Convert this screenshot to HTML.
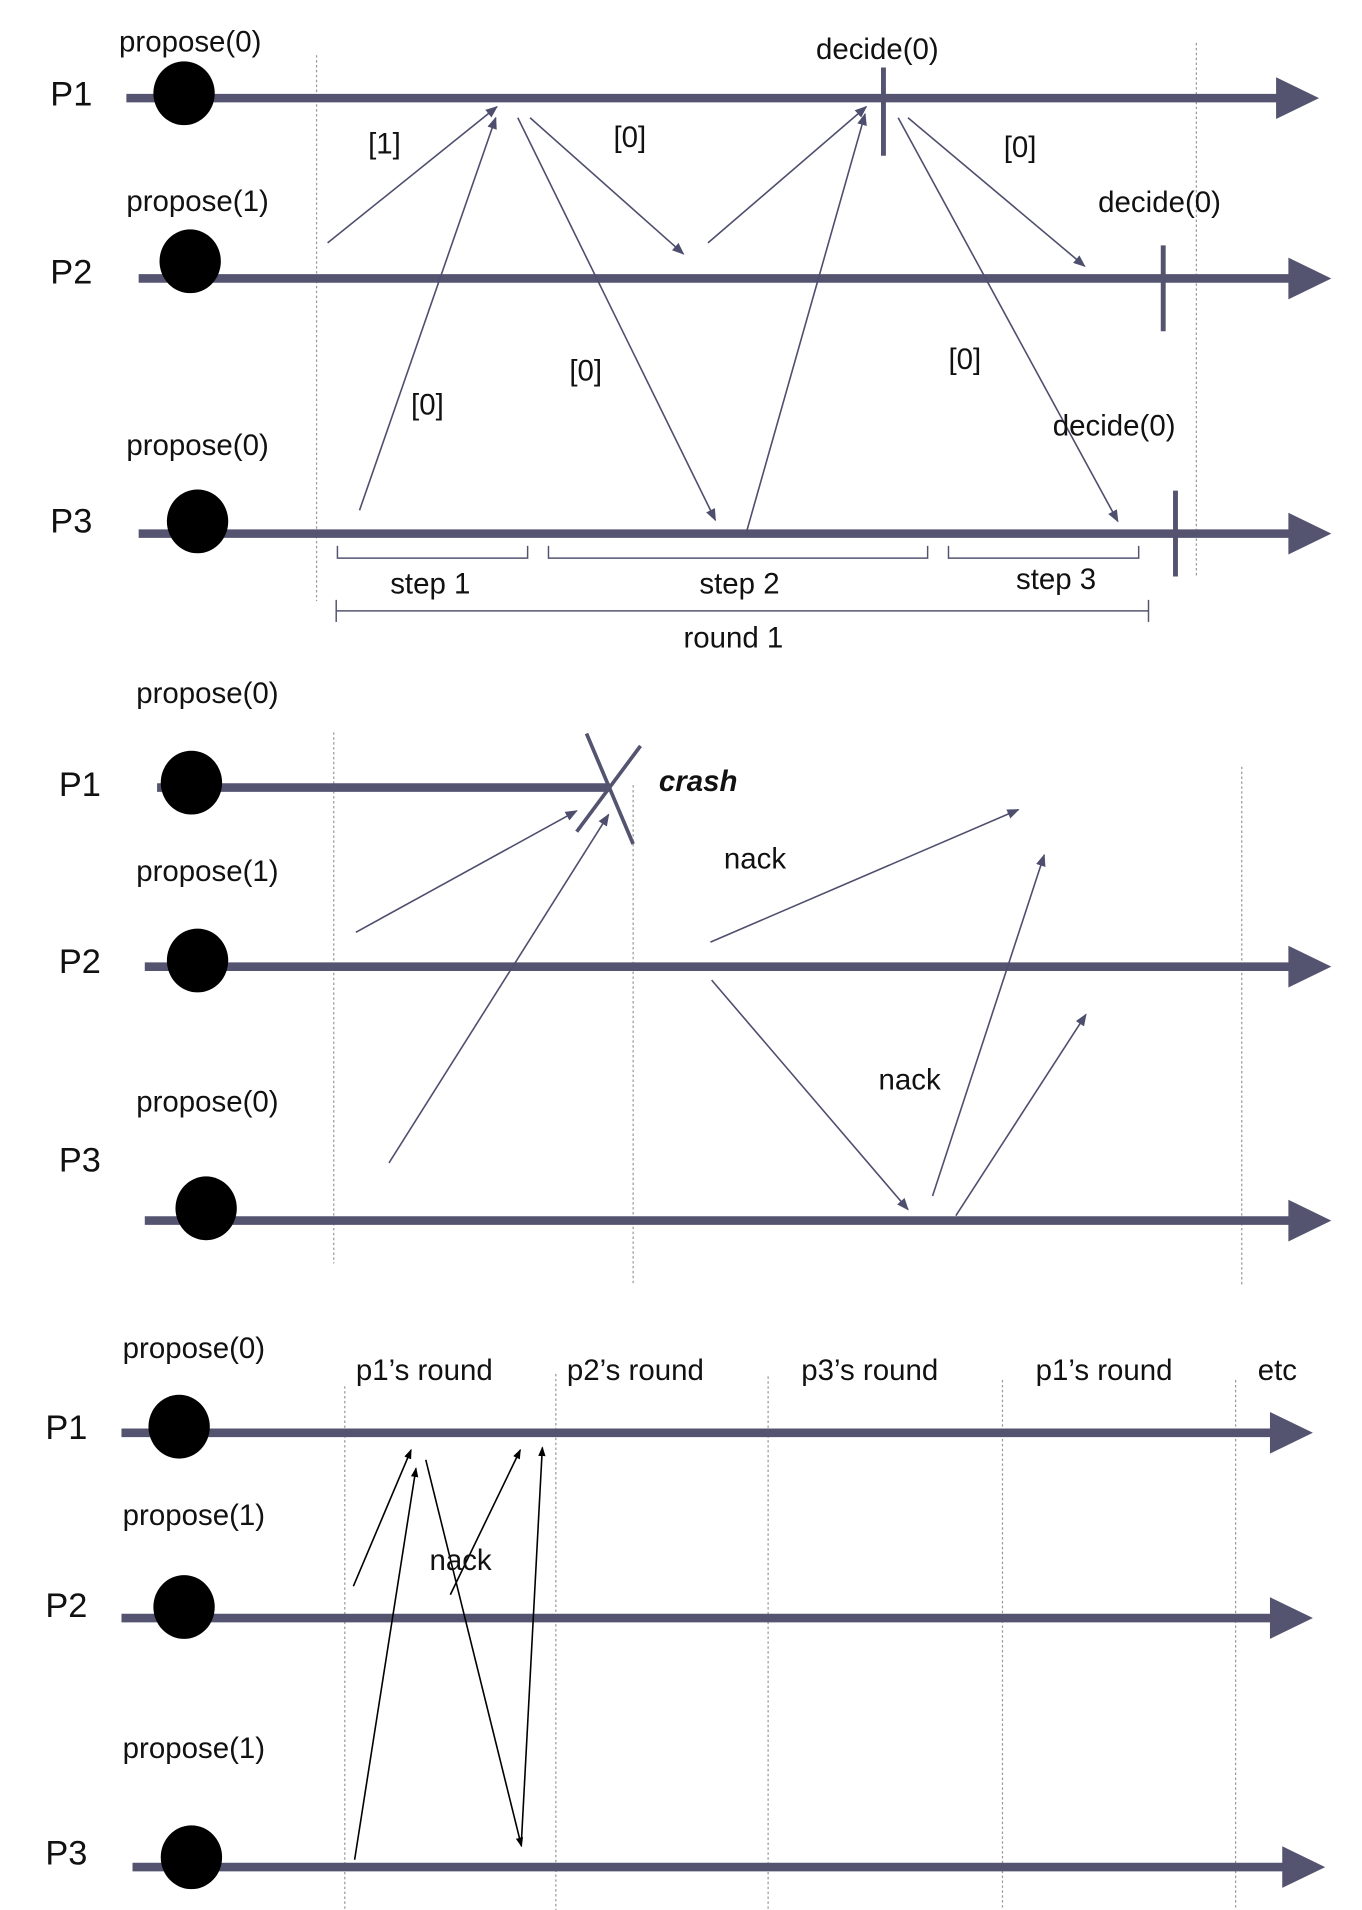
<!DOCTYPE html>
<html><head><meta charset="utf-8"><style>
html,body{margin:0;padding:0;background:#fff;}
svg{display:block;}
text{font-family:"Liberation Sans",sans-serif;fill:#111;}
</style></head><body>
<svg width="1362" height="1910" viewBox="0 0 1110 1557" preserveAspectRatio="none" xmlns="http://www.w3.org/2000/svg">
<defs>
<marker id="a" markerWidth="10" markerHeight="10" refX="9" refY="5" orient="auto" markerUnits="userSpaceOnUse"><path d="M0,1 L10,5 L0,9 z" fill="#4e4e6e"/></marker>
<marker id="b" markerWidth="8" markerHeight="8" refX="7" refY="4" orient="auto" markerUnits="userSpaceOnUse"><path d="M0,1 L8,4 L0,7 z" fill="#000"/></marker>
</defs>
<g stroke="#999" stroke-width="1" stroke-dasharray="2,2">
<line x1="258" y1="45" x2="258" y2="490"/><line x1="975" y1="35" x2="975" y2="470"/>
<line x1="272" y1="597" x2="272" y2="1030"/><line x1="516" y1="640" x2="516" y2="1048"/><line x1="1012" y1="625" x2="1012" y2="1048"/>
<line x1="281" y1="1130" x2="281" y2="1557"/><line x1="453" y1="1120" x2="453" y2="1557"/><line x1="626" y1="1122" x2="626" y2="1557"/><line x1="817" y1="1125" x2="817" y2="1557"/><line x1="1007" y1="1125" x2="1007" y2="1557"/>
</g>
<g stroke="#545470" stroke-width="7">
<line x1="103" y1="80" x2="1042" y2="80"/><line x1="113" y1="227" x2="1052" y2="227"/><line x1="113" y1="435" x2="1052" y2="435"/>
<line x1="128" y1="642" x2="497" y2="642"/><line x1="118" y1="788" x2="1052" y2="788"/><line x1="118" y1="995" x2="1052" y2="995"/>
<line x1="99" y1="1168" x2="1037" y2="1168"/><line x1="99" y1="1319" x2="1037" y2="1319"/><line x1="108" y1="1522" x2="1047" y2="1522"/>
</g>
<g fill="#545470">
<path d="M1040,63 L1075,80 L1040,97z"/><path d="M1050,210 L1085,227 L1050,244z"/><path d="M1050,418 L1085,435 L1050,452z"/>
<path d="M1050,771 L1085,788 L1050,805z"/><path d="M1050,978 L1085,995 L1050,1012z"/>
<path d="M1035,1151 L1070,1168 L1035,1185z"/><path d="M1035,1302 L1070,1319 L1035,1336z"/><path d="M1045,1505 L1080,1522 L1045,1539z"/>
</g>
<g stroke="#545470" stroke-width="4">
<line x1="720" y1="55" x2="720" y2="127"/><line x1="948" y1="200" x2="948" y2="270"/><line x1="958" y1="400" x2="958" y2="470"/>
<line x1="478" y1="598" x2="516" y2="688" stroke-width="3"/><line x1="470" y1="678" x2="522" y2="608" stroke-width="3"/>
</g>
<g fill="#000">
<ellipse cx="150" cy="76" rx="25" ry="26"/><ellipse cx="155" cy="213" rx="25" ry="26"/><ellipse cx="161" cy="425" rx="25" ry="26"/>
<ellipse cx="156" cy="638" rx="25" ry="26"/><ellipse cx="161" cy="783" rx="25" ry="26"/><ellipse cx="168" cy="985" rx="25" ry="26"/>
<ellipse cx="146" cy="1163" rx="25" ry="26"/><ellipse cx="150" cy="1310" rx="25" ry="26"/><ellipse cx="156" cy="1514" rx="25" ry="26"/>
</g>
<g stroke="#4e4e6e" stroke-width="1.3" fill="none" marker-end="url(#a)">
<line x1="267" y1="198" x2="405" y2="87"/><line x1="293" y1="416" x2="404" y2="96"/>
<line x1="422" y1="96" x2="583" y2="424"/><line x1="432" y1="96" x2="557" y2="207"/>
<line x1="577" y1="198" x2="706" y2="87"/><line x1="608" y1="435" x2="705" y2="93"/>
<line x1="732" y1="96" x2="911" y2="425"/><line x1="740" y1="96" x2="884" y2="217"/>
<line x1="290" y1="760" x2="470" y2="661"/><line x1="317" y1="948" x2="496" y2="664"/>
<line x1="579" y1="768" x2="830" y2="660"/><line x1="580" y1="799" x2="740" y2="986"/>
<line x1="760" y1="975" x2="851" y2="697"/><line x1="779" y1="991" x2="885" y2="827"/>
</g>
<g stroke="#000" stroke-width="1.3" fill="none" marker-end="url(#b)">
<line x1="288" y1="1293" x2="335" y2="1182"/><line x1="289" y1="1516" x2="339" y2="1197"/>
<line x1="347" y1="1190" x2="425" y2="1505"/><line x1="367" y1="1300" x2="424" y2="1182"/>
<line x1="425" y1="1500" x2="442" y2="1180"/>
</g>
<g stroke="#545470" stroke-width="1.2" fill="none">
<path d="M275,445 V455 H430 V445"/><path d="M447,445 V455 H756 V445"/><path d="M773,445 V455 H928 V445"/>
<line x1="274" y1="498" x2="936" y2="498"/><line x1="274" y1="489" x2="274" y2="507"/><line x1="936" y1="489" x2="936" y2="507"/>
</g>
<g font-size="24">
<text x="97" y="42">propose(0)</text><text x="103" y="172">propose(1)</text><text x="103" y="371">propose(0)</text>
<text x="665" y="48">decide(0)</text><text x="895" y="173">decide(0)</text><text x="858" y="355">decide(0)</text>
<text x="300" y="125">[1]</text><text x="500" y="120">[0]</text><text x="818" y="128">[0]</text>
<text x="335" y="338">[0]</text><text x="464" y="310">[0]</text><text x="773" y="301">[0]</text>
<text x="318" y="484">step 1</text><text x="570" y="484">step 2</text><text x="828" y="480">step 3</text><text x="557" y="528">round 1</text>
<text x="111" y="573">propose(0)</text><text x="111" y="718">propose(1)</text><text x="111" y="906">propose(0)</text>
<text x="537" y="645" font-weight="bold" font-style="italic">crash</text>
<text x="590" y="708">nack</text><text x="716" y="888">nack</text>
<text x="100" y="1107">propose(0)</text><text x="100" y="1243">propose(1)</text><text x="100" y="1433">propose(1)</text>
<text x="290" y="1125">p1’s round</text><text x="462" y="1125">p2’s round</text><text x="653" y="1125">p3’s round</text><text x="844" y="1125">p1’s round</text><text x="1025" y="1125">etc</text>
<text x="350" y="1280">nack</text>
</g>
<g font-size="28">
<text x="41" y="86">P1</text><text x="41" y="231">P2</text><text x="41" y="434">P3</text>
<text x="48" y="649">P1</text><text x="48" y="793">P2</text><text x="48" y="955">P3</text>
<text x="37" y="1173">P1</text><text x="37" y="1318">P2</text><text x="37" y="1520">P3</text>
</g>
</svg>
</body></html>
